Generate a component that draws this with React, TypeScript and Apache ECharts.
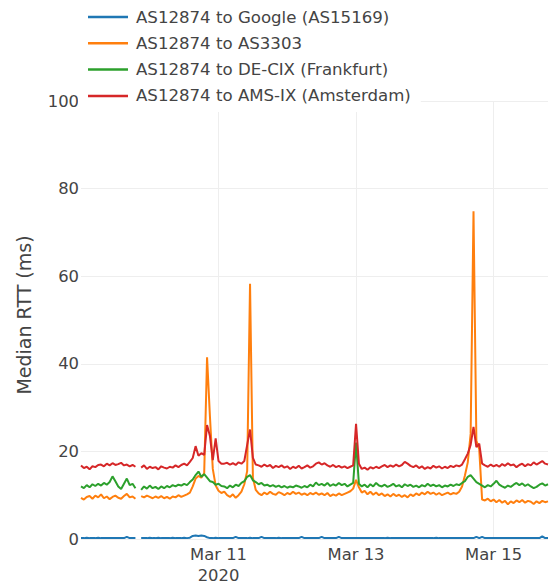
import React, { useEffect, useRef } from "react";
import * as echarts from "echarts";

// Hourly medians starting Mar 9 2020 00:00 (index = hours since start)
const seriesNames = [
  "AS12874 to Google (AS15169)",
  "AS12874 to AS3303",
  "AS12874 to DE-CIX (Frankfurt)",
  "AS12874 to AMS-IX (Amsterdam)",
];
const seriesColors = ["#1f77b4", "#ff7f0e", "#2ca02c", "#d62728"];

const googleRtt = [
  0.2, 0.2, 0.3, 0.2, 0.2, 0.2, 0.3, 0.2, 0.2, 0.2,
  0.2, 0.2, 0.2, 0.2, 0.2, 0.2, 0.5, 0.2, 0.2, 0.2,
  null, 0.2, 0.2, 0.2, 0.3, 0.2, 0.2, 0.3, 0.2, 0.2,
  0.2, 0.2, 0.3, 0.2, 0.2, 0.2, 0.3, 0.2, 0.3, 0.7,
  0.8, 0.7, 0.8, 0.7, 0.4, 0.2, 0.2, 0.3, 0.2, 0.2,
  0.2, 0.2, 0.2, 0.2, 0.5, 0.2, 0.2, 0.2, 0.2, 0.3,
  0.2, 0.2, 0.2, 0.5, 0.2, 0.2, 0.2, 0.2, 0.2, 0.3,
  0.2, 0.2, 0.2, 0.2, 0.2, 0.2, 0.2, 0.5, 0.2, 0.2,
  0.2, 0.2, 0.2, 0.2, 0.5, 0.2, 0.2, 0.2, 0.2, 0.2,
  0.5, 0.2, 0.2, 0.2, 0.2, 0.2, 0.2, 0.2, 0.2, 0.2,
  0.2, 0.2, 0.2, 0.2, 0.2, 0.2, 0.2, 0.3, 0.2, 0.2,
  0.2, 0.2, 0.2, 0.2, 0.2, 0.2, 0.2, 0.2, 0.2, 0.2,
  0.2, 0.2, 0.2, 0.2, 0.3, 0.2, 0.2, 0.2, 0.2, 0.2,
  0.2, 0.2, 0.2, 0.2, 0.2, 0.2, 0.2, 0.2, 0.5, 0.2,
  0.5, 0.2, 0.2, 0.2, 0.2, 0.2, 0.2, 0.2, 0.2, 0.2,
  0.2, 0.2, 0.2, 0.2, 0.2, 0.2, 0.2, 0.2, 0.2, 0.2,
  0.2, 0.6, 0.2, 0.2,
];

const as3303Rtt = [
  9.4, 9.0, 9.6, 9.8, 9.2, 9.9, 9.5, 10.2, 9.3, 9.7,
  9.1, 9.6, 9.9, 9.4, 9.2, 9.8, 10.3, 9.5, 9.7, 9.2,
  null, 9.8, 9.5, 9.9, 9.6, 9.3, 9.7, 9.4, 9.8, 9.3,
  9.6, 9.2, 9.7, 9.5, 10.0, 9.6, 9.9, 10.2, 10.6, 12.0,
  13.8, 14.4, 14.0, 15.0, 41.5, 28.0, 16.0, 12.2, 11.0, 10.5,
  10.8, 10.0, 9.6, 10.2, 9.4, 10.0, 10.8, 12.5, 15.5, 58.3,
  14.0, 11.2, 10.4, 10.0, 10.6, 10.2, 10.8, 10.3, 10.1, 10.7,
  10.4, 10.0, 10.5, 10.2, 10.8, 10.3, 10.6, 10.1, 10.4, 10.0,
  10.5, 10.2, 10.6, 10.1, 10.4, 10.0, 10.5, 9.8, 10.2, 9.9,
  10.4, 10.0, 10.3, 10.6, 10.9, 11.5, 13.5, 11.8, 10.6, 11.0,
  10.2, 10.8, 10.1, 10.6, 10.0, 10.4, 9.8, 10.2, 9.7, 10.3,
  9.8, 10.1, 9.6, 10.0, 9.5, 10.2, 9.8, 10.4, 10.0, 10.6,
  10.2, 10.8, 10.3, 10.6, 10.1, 10.5, 10.0, 10.3, 10.6, 10.2,
  10.5, 10.3, 10.8, 12.0, 14.5, 17.5, 24.0, 74.8, 22.5, 20.5,
  9.0, 8.8, 9.2, 8.6, 9.0, 8.4, 8.9, 8.3, 8.7, 7.9,
  8.6, 8.2, 8.8, 8.4, 8.9, 8.3, 8.7, 8.5, 8.0, 8.6,
  8.2, 8.7, 8.4, 8.6,
];

const decixRtt = [
  12.0, 11.6, 12.3, 11.8, 12.5, 12.1, 12.6, 12.2, 12.8, 12.4,
  13.0, 14.3, 13.2, 12.0, 11.4, 12.6, 13.8, 12.3, 12.6, 11.6,
  null, 11.2, 12.0, 11.5, 12.2, 11.6, 11.9, 11.4, 12.0, 11.6,
  12.1, 11.8, 12.3, 12.0, 12.4, 12.2, 12.6, 12.3, 13.0, 13.6,
  14.6, 15.4, 14.2, 14.8, 14.0, 13.2, 13.0, 12.4, 12.6, 12.1,
  12.0, 11.6, 12.2, 11.8, 12.4, 12.1, 12.8, 13.2, 14.2, 14.6,
  13.4, 13.0, 12.5, 12.8, 12.2, 12.4, 12.0, 12.3, 11.9, 12.2,
  11.8, 12.1, 11.7, 12.0, 11.8, 12.2, 12.0, 11.7, 12.1, 11.8,
  12.4, 12.0, 12.9, 12.3, 12.6, 12.2, 12.8, 12.1, 12.5, 12.2,
  12.8, 12.3, 12.6, 12.0, 12.4, 12.8, 22.0, 12.6, 12.0, 12.4,
  11.8, 12.5, 12.0, 12.8, 12.2, 12.0, 12.4, 11.9, 12.2, 12.6,
  12.0, 12.3, 11.8, 12.5, 12.1, 12.4, 11.9, 12.2, 11.8, 12.3,
  12.0, 12.6, 12.1, 12.4, 12.0, 12.3, 11.8, 12.2, 12.0, 12.4,
  12.1, 12.5, 12.3, 12.8, 13.2, 14.2, 14.6, 13.8, 13.0, 12.6,
  12.2, 11.8, 12.3, 12.0, 12.6, 13.3, 12.4, 12.0, 11.7, 12.2,
  11.9, 12.4, 12.8, 12.3, 12.7, 12.1, 12.5, 12.0, 11.6, 11.9,
  12.4, 12.7, 12.2, 12.5,
];

const amsixRtt = [
  16.8, 16.2, 16.5, 15.9, 16.6, 16.4, 16.9, 17.0, 16.6, 17.2,
  16.8, 17.3, 16.9, 17.1, 17.4, 16.8, 17.0, 16.6, 16.9, 16.5,
  null, 16.3, 16.8, 16.0, 16.5, 16.2, 16.4, 15.9, 16.6, 16.3,
  16.1, 16.5, 16.3, 16.8, 16.4, 16.9, 17.2, 16.8, 17.6, 18.5,
  21.2, 19.0, 19.6, 19.2, 26.0, 23.5, 18.0, 23.0, 17.8, 17.2,
  17.2, 17.4, 17.0, 17.3, 16.9, 17.5, 17.2, 17.8, 21.5, 25.0,
  18.5, 17.0, 16.8, 16.5, 17.0, 16.6, 16.9, 16.2, 16.7, 16.4,
  16.8, 16.3, 16.6, 16.0, 16.5, 16.2, 16.7, 16.1, 16.4, 16.8,
  16.3, 16.6, 17.2, 17.5, 17.0, 17.3, 16.8, 16.5, 16.9, 16.4,
  16.7, 16.3, 16.6, 16.2, 16.5, 16.8, 26.3, 17.2, 16.0, 16.3,
  15.8, 16.4, 16.1, 16.5, 16.2, 16.6, 16.9, 16.4, 16.8, 16.5,
  17.0, 16.6, 16.9, 17.6, 17.2, 16.7, 16.4, 16.8, 16.2, 16.6,
  16.0, 16.4, 16.1, 16.7, 16.3, 16.6, 16.1, 16.5, 16.2, 16.7,
  16.4, 16.8, 16.6, 17.0, 18.2, 19.5, 21.5, 25.6, 21.0, 21.8,
  17.2, 16.8, 16.5, 17.0, 16.6, 16.9, 16.5, 17.1, 16.7, 17.3,
  16.8, 17.0, 16.4, 16.9, 17.2, 16.6, 17.1, 16.8, 17.5, 17.0,
  17.4, 17.8, 17.2, 17.0,
];

const xTickHours = [48, 96, 144];
const xTickLabels = ["Mar 11\n2020", "Mar 13", "Mar 15"];
const yTicks = [0, 20, 40, 60, 80, 100];
const yAxisTitle = "Median RTT (ms)";

const FONT = "DejaVu Sans";

export default function App() {
  const ref = useRef<HTMLDivElement>(null);
  useEffect(() => {
    if (!ref.current) return;
    const chart = echarts.init(ref.current, undefined, { renderer: "svg" });
    const all = [googleRtt, as3303Rtt, decixRtt, amsixRtt];
    const lastHour = googleRtt.length - 1;
    chart.setOption({
      animation: false,
      backgroundColor: "#fff",
      grid: { left: 81, right: 0, top: 101, bottom: 44, containLabel: false },
      legend: {
        orient: "vertical",
        left: 78,
        top: 0,
        padding: [7, 10, 6, 10],
        backgroundColor: "#fff",
        icon: "rect",
        itemWidth: 40,
        itemHeight: 2.5,
        itemGap: 6.3,
        data: seriesNames,
        textStyle: {
          fontFamily: FONT,
          fontSize: 16.6,
          color: "#444",
          lineHeight: 20,
          padding: [0, 0, 0, 3],
        },
      },
      graphic: [
        {
          type: "text",
          x: 24,
          y: 315,
          rotation: Math.PI / 2,
          style: {
            text: yAxisTitle,
            fontFamily: FONT,
            fontSize: 19,
            fill: "#444",
            align: "center",
            verticalAlign: "middle",
          },
        },
      ],
      xAxis: {
        type: "value",
        min: 0,
        max: lastHour,
        interval: 48,
        axisLine: { show: false },
        axisTick: { show: false },
        splitLine: {
          show: true,
          lineStyle: {
            color: ["rgba(0,0,0,0)", "#eeeeee", "#eeeeee", "#eeeeee", "rgba(0,0,0,0)"],
            width: 1,
          },
        },
        axisLabel: {
          margin: 5,
          fontFamily: FONT,
          fontSize: 16.4,
          color: "#444",
          lineHeight: 21,
          showMinLabel: true,
          showMaxLabel: true,
          formatter: (v: number) => {
            const i = xTickHours.indexOf(Math.round(v));
            return i >= 0 ? xTickLabels[i] : "";
          },
        },
      },
      yAxis: {
        type: "value",
        min: yTicks[0],
        max: yTicks[yTicks.length - 1],
        interval: 20,
        axisLine: { show: false },
        axisTick: { show: false },
        splitLine: { show: true, lineStyle: { color: "#eeeeee", width: 1 } },
        axisLabel: { margin: 2, fontFamily: FONT, fontSize: 16.4, color: "#444" },
      },
      series: all.map((arr, k) => ({
        name: seriesNames[k],
        type: "line",
        symbol: "none",
        showSymbol: false,
        connectNulls: false,
        z: 2 + k,
        color: seriesColors[k],
        lineStyle: { width: 2, color: seriesColors[k] },
        data: arr.map((v, i) => [i, v === null ? "-" : v]),
      })),
    });
    return () => chart.dispose();
  }, []);
  return (
    <div
      ref={ref}
      style={{ position: "fixed", left: 0, top: 0, width: 551, height: 586 }}
    />
  );
}
